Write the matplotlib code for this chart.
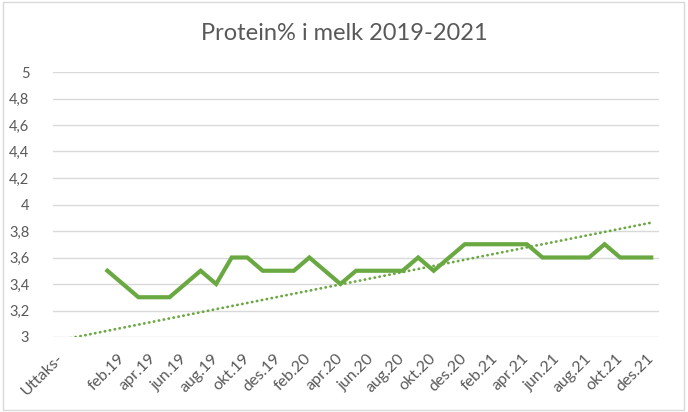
import numpy as np
import matplotlib.pyplot as plt
from matplotlib.patches import Rectangle

# kategorier: tre innledende rader, deretter måneder 2019-2021
lead_labels = ["Uttaks-", "", ""]
months = ["jan", "feb", "mar", "apr", "mai", "jun",
          "jul", "aug", "sep", "okt", "nov", "des"]
years = ["19", "20", "21"]
month_labels = [f"{m}.{y}" for y in years for m in months]
categories = lead_labels + month_labels

# protein% per måned (lest av grafen)
protein = [3.5, 3.4, 3.3, 3.3, 3.3, 3.4, 3.5, 3.4, 3.6, 3.6, 3.5, 3.5,
           3.5, 3.6, 3.5, 3.4, 3.5, 3.5, 3.5, 3.5, 3.6, 3.5, 3.6, 3.7,
           3.7, 3.7, 3.7, 3.7, 3.6, 3.6, 3.6, 3.6, 3.7, 3.6, 3.6, 3.6]

# trendlinje, verdi ved første og siste kategori
trend_start = 2.977
trend_end = 3.863

yticks = [3, 3.2, 3.4, 3.6, 3.8, 4, 4.2, 4.4, 4.6, 4.8, 5]

green = "#6aa842"
grey = "#595959"
plt.rcParams['font.family'] = ['Lato', 'DejaVu Sans']

fig = plt.figure(figsize=(6.88, 4.12), dpi=100)
ax = fig.add_axes([53/688, 1 - 337/412, (659 - 53)/688, (337 - 72)/412])

x = np.arange(len(categories))
y = np.array([np.nan]*len(lead_labels) + protein)
ax.plot(x, y, color=green, lw=3.0, solid_joinstyle='miter', zorder=3)

ax.plot([x[0], x[-1]], [trend_start, trend_end], color=green, lw=2.0,
        linestyle=(0, (0.1, 1.7)), dash_capstyle='round', zorder=2)

ax.set_xlim(-0.5, len(categories) - 0.5)
ax.set_ylim(3, 5)
ax.set_yticks(yticks)
ax.set_yticklabels([f"{t:g}".replace(".", ",") for t in yticks])
ax.grid(axis='y', color="#d9d9d9", lw=1.0)
ax.set_axisbelow(True)
for s in ax.spines.values():
    s.set_visible(False)
ax.tick_params(axis='y', length=0, pad=17, labelsize=10.5, labelcolor=grey)

ax.set_xticks(x[::2])
ax.set_xticklabels(categories[::2], rotation=45, ha='right', va='center',
                   rotation_mode='anchor')
ax.tick_params(axis='x', length=0, pad=14, labelsize=11.5, labelcolor=grey)

fig.text(0.5, 1 - 33/412, "Protein% i melk 2019-2021", ha='center',
         va='center', fontsize=17, color=grey)

# ramme rundt diagramområdet
fig.patches.append(Rectangle((3/688, 2/412), 681/688, 408/412,
                             transform=fig.transFigure, fill=False,
                             edgecolor="#d9d9d9", lw=1.0))

fig.savefig("out.png", dpi=100)
